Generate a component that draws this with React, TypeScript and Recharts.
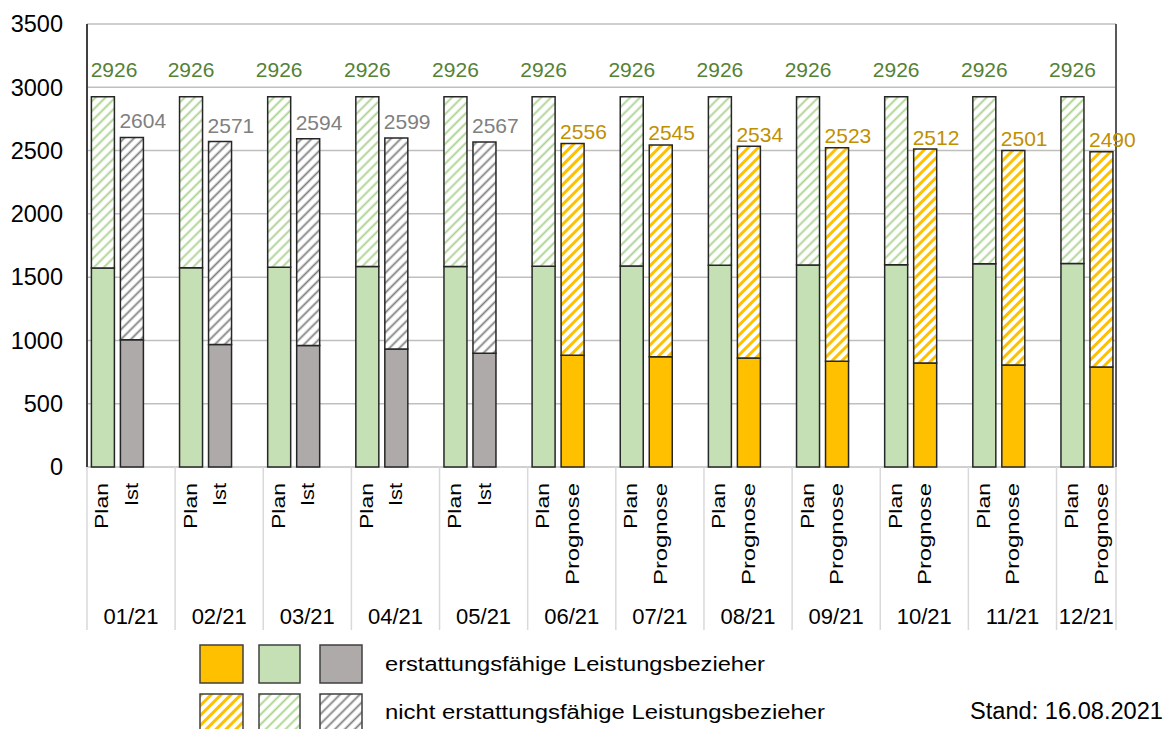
import React from 'react';
import { BarChart, Bar, XAxis, YAxis, CartesianGrid, LabelList, Cell } from 'recharts';

// monthly values (Plan vs Ist/Prognose)
const months = ['01/21', '02/21', '03/21', '04/21', '05/21', '06/21', '07/21', '08/21', '09/21', '10/21', '11/21', '12/21'];
const planTotal = [2926, 2926, 2926, 2926, 2926, 2926, 2926, 2926, 2926, 2926, 2926, 2926];
const planErstattungsfaehig = [1573, 1574, 1578, 1585, 1585, 1586, 1588, 1593, 1596, 1597, 1606, 1607];
const istTotal = [2604, 2571, 2594, 2599, 2567, 2556, 2545, 2534, 2523, 2512, 2501, 2490];
const istErstattungsfaehig = [1006, 967, 959, 932, 898, 882, 872, 861, 835, 822, 806, 790];
const istKind = ['Ist', 'Ist', 'Ist', 'Ist', 'Ist', 'Prognose', 'Prognose', 'Prognose', 'Prognose', 'Prognose', 'Prognose', 'Prognose'];
const yTicks = [0, 500, 1000, 1500, 2000, 2500, 3000, 3500];

const data = months.map((month, i) => ({
  month,
  planLow: planErstattungsfaehig[i],
  planHigh: planTotal[i] - planErstattungsfaehig[i],
  planTotal: planTotal[i],
  istLow: istErstattungsfaehig[i],
  istHigh: istTotal[i] - istErstattungsfaehig[i],
  istTotal: istTotal[i],
}));

const FONT = '"Liberation Sans", Arial, sans-serif';
const PLOT_LEFT = 87;
const PLOT_RIGHT = 1116;
const PLOT_BOTTOM = 467;
const BAND = 88.1;

const isForecast = (i: number) => istKind[i] === 'Prognose';

const PlanLabel = (props: any) => {
  const { x, y, width, value } = props;
  const cx = Math.max(Number(x) + Number(width) / 2, PLOT_LEFT + 27);
  return (
    <text x={cx} y={Number(y) - 27} textAnchor="middle" dominantBaseline="central" fontSize={21} fontFamily={FONT} fill="#548235">
      {value}
    </text>
  );
};

const IstLabel = (props: any) => {
  const { x, y, value, index } = props;
  const fc = isForecast(index);
  return (
    <text x={Number(x) - 1} y={Number(y) - (fc ? 12 : 16.5)} textAnchor="start" dominantBaseline="central" fontSize={21} fontFamily={FONT} fill={fc ? '#BF9000' : '#808080'}>
      {value}
    </text>
  );
};

const MonthTick = (props: any) => {
  const { x, index, payload } = props;
  const sep = x - 30.5;
  const right = Math.min(sep + BAND, PLOT_RIGHT);
  const kind = istKind[index];
  const rot = (cx: number, txt: string, len: number) => (
    <text
      transform={`translate(${cx},${PLOT_BOTTOM + 16}) rotate(-90)`}
      textAnchor="end"
      dominantBaseline="central"
      fontSize={18}
      fontFamily={FONT}
      fill="#000"
      textLength={len}
      lengthAdjust="spacingAndGlyphs"
    >
      {txt}
    </text>
  );
  return (
    <g>
      <line x1={sep} y1={PLOT_BOTTOM} x2={sep} y2={630} stroke="#D9D9D9" strokeWidth={1.5} />
      {index === months.length - 1 && (
        <line x1={PLOT_RIGHT} y1={PLOT_BOTTOM} x2={PLOT_RIGHT} y2={630} stroke="#D9D9D9" strokeWidth={1.5} />
      )}
      {rot(x - 15, 'Plan', 46)}
      {rot(x + 14.5, kind, kind === 'Ist' ? 23 : 102)}
      <text x={(sep + right) / 2} y={624} textAnchor="middle" fontSize={22} fontFamily={FONT} fill="#000">
        {payload.value}
      </text>
    </g>
  );
};

const Hatch = ({ id, color, width }: { id: string; color: string; width: number }) => (
  <pattern id={id} patternUnits="userSpaceOnUse" width={7} height={7} patternTransform="rotate(45)">
    <rect width={7} height={7} fill="#fff" />
    <line x1={3.5} y1={0} x2={3.5} y2={7} stroke={color} strokeWidth={width} />
  </pattern>
);

const patterns = (p: string) => (
  <defs>
    <Hatch id={`${p}green`} color="#A9D18E" width={1.8} />
    <Hatch id={`${p}gray`} color="#7F7F7F" width={1.8} />
    <Hatch id={`${p}orange`} color="#FFC000" width={3} />
  </defs>
);

export default function App() {
  return (
    <div style={{ position: 'absolute', left: 0, top: 0, width: 1166, height: 729, background: '#fff', fontFamily: FONT }}>
      <BarChart
        width={1166}
        height={640}
        data={data}
        margin={{ top: 24, right: 48, left: 0, bottom: 0 }}
        barSize={23}
        barGap={6}
      >
        {patterns('c-')}
        <CartesianGrid vertical={false} stroke="#BFBFBF" strokeWidth={1.5} />
        <XAxis
          dataKey="month"
          interval={0}
          height={173}
          axisLine={false}
          tickLine={false}
          padding={{ left: -13.6, right: -15.1 }}
          tick={<MonthTick />}
        />
        <YAxis
          domain={[0, 3500]}
          ticks={yTicks}
          width={PLOT_LEFT}
          tickSize={0}
          tickMargin={24}
          axisLine={{ stroke: '#404040', strokeWidth: 2 }}
          tick={{ fontSize: 23.5, fill: '#000', fontFamily: FONT }}
        />
        <YAxis
          yAxisId="r"
          orientation="right"
          domain={[0, 3500]}
          width={2}
          tick={false}
          tickLine={false}
          axisLine={{ stroke: '#595959', strokeWidth: 2 }}
        />
        <Bar dataKey="planLow" stackId="plan" fill="#C5E0B4" stroke="#262626" strokeWidth={1.5} isAnimationActive={false} />
        <Bar dataKey="planHigh" stackId="plan" fill="url(#c-green)" stroke="#262626" strokeWidth={1.5} isAnimationActive={false}>
          <LabelList dataKey="planTotal" content={<PlanLabel />} />
        </Bar>
        <Bar dataKey="istLow" stackId="ist" stroke="#262626" strokeWidth={1.5} isAnimationActive={false}>
          {data.map((d, i) => (
            <Cell key={d.month} fill={isForecast(i) ? '#FFC000' : '#AEAAAA'} />
          ))}
        </Bar>
        <Bar dataKey="istHigh" stackId="ist" stroke="#262626" strokeWidth={1.5} isAnimationActive={false}>
          {data.map((d, i) => (
            <Cell key={d.month} fill={isForecast(i) ? 'url(#c-orange)' : 'url(#c-gray)'} />
          ))}
          <LabelList dataKey="istTotal" content={<IstLabel />} />
        </Bar>
      </BarChart>

      {/* legend + Stand */}
      <svg width={1166} height={729} style={{ position: 'absolute', left: 0, top: 0, pointerEvents: 'none' }}>
        {patterns('l-')}
        <rect x={200} y={645} width={43} height={38} fill="#FFC000" stroke="#404040" strokeWidth={1.5} />
        <rect x={259} y={645} width={41} height={38} fill="#C5E0B4" stroke="#404040" strokeWidth={1.5} />
        <rect x={320} y={645} width={42} height={38} fill="#AEAAAA" stroke="#404040" strokeWidth={1.5} />
        <rect x={200} y={694} width={43} height={38} fill="url(#l-orange)" stroke="#404040" strokeWidth={1.5} />
        <rect x={259} y={694} width={41} height={38} fill="url(#l-green)" stroke="#404040" strokeWidth={1.5} />
        <rect x={320} y={694} width={42} height={38} fill="url(#l-gray)" stroke="#404040" strokeWidth={1.5} />
        <text x={385} y={664} dominantBaseline="central" fontSize={20} fontFamily={FONT} fill="#000" textLength={380} lengthAdjust="spacingAndGlyphs">
          erstattungsfähige Leistungsbezieher
        </text>
        <text x={385} y={712} dominantBaseline="central" fontSize={20} fontFamily={FONT} fill="#000" textLength={440} lengthAdjust="spacingAndGlyphs">
          nicht erstattungsfähige Leistungsbezieher
        </text>
        <text x={970} y={711} dominantBaseline="central" fontSize={23.5} fontFamily={FONT} fill="#000" textLength={193} lengthAdjust="spacingAndGlyphs">
          Stand: 16.08.2021
        </text>
      </svg>
    </div>
  );
}
